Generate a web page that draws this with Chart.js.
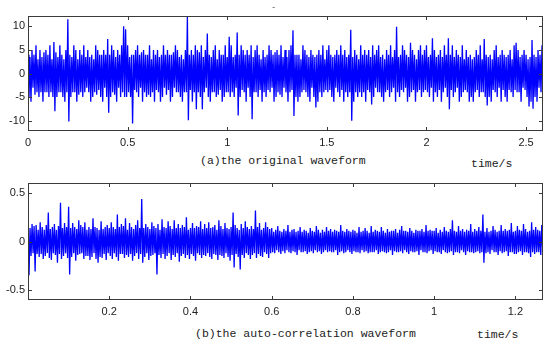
<!DOCTYPE html>
<html>
<head>
<meta charset="utf-8">
<script src="https://cdn.jsdelivr.net/npm/chart.js@4.4.0/dist/chart.umd.min.js"></script>
<style>
  html, body { margin: 0; padding: 0; background: #fff; }
  #wrap { position: relative; width: 554px; height: 352px; overflow: hidden; }
  .plot { position: absolute; left: 0; width: 554px; height: 150px; }
  .cap { position: absolute; font-family: "Liberation Mono", monospace; font-size: 11.5px; line-height: 12px; color: #222; white-space: pre; }
</style>
</head>
<body>
<div id="wrap">
  <div class="plot" style="top:0"><canvas id="chartA" width="554" height="150"></canvas></div>
  <div class="plot" style="top:170px"><canvas id="chartB" width="554" height="150"></canvas></div>
  <span class="cap" style="left:271px;top:2px;font-size:9px;color:#666">-</span>
  <span class="cap" style="left:200px;top:155px">(a)the original waveform</span>
  <span class="cap" style="left:471px;top:158px">time/s</span>
  <span class="cap" style="left:195px;top:328px">(b)the auto-correlation waveform</span>
  <span class="cap" style="left:477px;top:329px">time/s</span>
</div>
<script>
// (a) original waveform, one sample every 0.005 s
const dtA = 0.005;
const waveA = [
  4,-5,3.5,-6,5,-3,4,-4.5,6,-4,3,-5,5,-4,3.5,-6,4.5,-4,5,-4,
  4,-5,6,-4,3,-5,6.7,-8,4.5,-5,3.5,-4,6,-4,4,-5,3,-6,5,-4,
  11.5,-10.2,4,-5,3.5,-4,6,-4,5,-6,3,-4.5,5,-4,4,-5,6,-4,3.5,-3,
  5,-4,3.5,-6,4,-5,3,-4,6,-4.5,5,-3.5,4,-5,4,-6,5,-3,4,-5,
  7.3,-8.3,4,-5,6,-4,5,-4.5,3.5,-6,5,-3,4,-5,6,-4,10,-5,9.4,-5,
  6,-4,3.5,-5,4,-10.6,4,-3.5,5,-4,6,-5,4,-3,4.5,-6,5,-4,4,-5,
  4,-4.5,6,-5,3,-4,5,-6,4,-3.5,5,-4,3.5,-6,4,-5,6,-3,4,-4.5,
  5,-3.5,4,-6,4,-5,4.5,-3,6,-4,5,-4,3.5,-5,4,-6,3,-4,5,-4,
  12.2,-9.9,4,-3.5,5,-6,4,-4,6,-7.6,5,-4,4.5,-5,6,-7.6,3.5,-4,5,-3,
  8.5,-5,4,-6,3.5,-4,5,-4,6,-5,3,-4.5,5,-3.5,4,-6,4,-5,6,-4,
  3.5,-4,7.8,-5,6,-4,3.5,-5,4,-3,8.7,-8.9,4,-5,6,-3.5,5,-4,4,-6,
  5,-3,4,-5,6,-9.7,3.5,-4,5,-4,6,-5,4,-3.5,3,-6,5,-4,3.5,-5,
  4,-3.5,6,-4,5,-3,4,-6,4.5,-5,5,-4,4,-4.5,6,-5,3.5,-3,5,-4,
  3.5,-6,5,-4,6,-3.5,9.2,-9,4,-5,4,-6,4,-5,3,-4,6,-3.5,5,-4,
  4,-5,3.5,-6,5,-3,4,-5,3.5,-7.2,4,-6,5,-4,4,-5,6,-4,3,-3.5,
  5,-4,6,-3.5,4,-5,3.5,-6,4,-3,5,-4,4,-5,6,-3.5,4,-6,5,-4,
  3.5,-5,4,-4,9.3,-10,3.5,-6,5,-4,4,-5,3,-4,6,-5,4,-4,5,-6,
  4,-3.5,5,-4,3.5,-6.6,6,-5,4,-3,5,-4,6,-4,3.5,-5,4,-6,3,-4,
  5,-3.5,4,-5,6,-4,3.5,-3,5,-6,9.9,-4,3.5,-5,4,-3.5,6,-4,5,-3,
  4,-6,3.5,-5,6.5,-4,5,-3.5,4,-6,3,-4,5,-3.5,6,-5,4,-4,5,-3.5,
  6,-4,3.5,-5,4,-3,7.5,-6,5,-4,3.5,-5,4,-3.5,5,-6,3.5,-4,6,-3,
  4,-5,7.5,-7.6,4,-3.5,6,-5,3.5,-4,5,-3,4,-6,3.5,-5,6,-4,3,-3.5,
  5,-4,3.5,-6,4,-5,3,-6,3.5,-4,5,-3.5,4,-5,6,-4,3,-4,7.3,-5,
  4,-6.8,3.5,-5,4,-6,3,-3.5,5,-4,6,-5,3.5,-3,4,-6,5,-3.5,4,-5,
  3.5,-6,4,-3.5,5,-4,3,-5,6,-3.5,6.5,-4,5,-4,3.5,-6,4,-3,5,-3.5,
  4,-5,3,-7,3.5,-6,7.1,-7.5,4,-5,3.5,-6,5,-3,4,-4,6,-3.5,5,-4
];
const xTicksA = [0, 0.5, 1, 1.5, 2, 2.5];
const yTicksA = [-10, -5, 0, 5, 10];

// (b) auto-correlation waveform, one sample every 0.0025 s
const dtB = 0.0025;
const waveB = [
  .25,-.35,.14,-.15,.18,-.12,.16,-.31,.17,-.13,.12,-.16,.2,-.13,.15,-.18,.12,-.15,.17,-.12,
  .3,-.17,.13,-.19,.15,-.12,.18,-.14,.12,-.22,.16,-.13,.4,-.18,.14,-.15,.19,-.12,.15,-.17,
  .36,-.34,.14,-.16,.19,-.12,.15,-.2,.13,-.14,.22,-.13,.17,-.12,.15,-.18,.2,-.15,.12,-.15,
  .15,-.19,.13,-.16,.24,-.12,.15,-.18,.14,-.22,.12,-.16,.21,-.17,.13,-.13,.15,-.19,.17,-.12,
  .14,-.15,.2,-.18,.15,-.12,.13,-.16,.28,-.2,.15,-.13,.18,-.13,.16,-.17,.24,-.14,.12,-.16,
  .19,-.13,.15,-.2,.13,-.15,.17,-.12,.22,-.18,.14,-.13,.44,-.22,.14,-.16,.18,-.12,.15,-.19,
  .13,-.15,.2,-.14,.16,-.12,.14,-.34,.18,-.14,.12,-.17,.23,-.13,.15,-.18,.14,-.15,.21,-.12,
  .16,-.19,.13,-.14,.22,-.16,.14,-.12,.18,-.21,.14,-.15,.17,-.13,.15,-.17,.25,-.14,.12,-.18,
  .14,-.13,.19,-.15,.14,-.2,.16,-.12,.15,-.14,.21,-.17,.13,-.14,.18,-.15,.14,-.12,.2,-.16,
  .14,-.18,.15,-.13,.17,-.14,.12,-.19,.22,-.14,.16,-.15,.13,-.17,.19,-.12,.14,-.16,.13,-.2,
  .15,-.14,.3,-.27,.17,-.13,.14,-.16,.12,-.29,.18,-.14,.14,-.17,.21,-.12,.15,-.14,.13,-.18,
  .16,-.14,.13,-.12,.32,-.17,.15,-.13,.19,-.15,.12,-.16,.14,-.11,.2,-.13,.15,-.17,.13,-.12,
  .14,-.11,.1,-.12,.12,-.09,.16,-.11,.11,-.13,.1,-.1,.13,-.12,.11,-.09,.17,-.11,.1,-.12,
  .12,-.1,.13,-.11,.1,-.14,.11,-.09,.15,-.11,.1,-.11,.12,-.1,.11,-.13,.09,-.11,.14,-.1,
  .11,-.12,.1,-.09,.16,-.11,.12,-.1,.09,-.13,.12,-.11,.1,-.09,.15,-.11,.11,-.1,.13,-.11,
  .1,-.11,.12,-.09,.11,-.14,.1,-.11,.17,-.1,.11,-.12,.1,-.11,.13,-.09,.11,-.11,.1,-.13,
  .12,-.1,.11,-.11,.09,-.11,.15,-.12,.1,-.09,.11,-.11,.14,-.1,.11,-.12,.09,-.11,.16,-.11,
  .1,-.11,.12,-.09,.11,-.13,.1,-.11,.15,-.1,.11,-.11,.09,-.12,.13,-.11,.1,-.09,.11,-.14,
  .11,-.1,.13,-.11,.09,-.11,.12,-.1,.16,-.12,.11,-.09,.11,-.11,.1,-.13,.14,-.1,.11,-.11,
  .09,-.11,.12,-.1,.11,-.14,.11,-.09,.13,-.11,.1,-.11,.17,-.12,.11,-.1,.12,-.09,.11,-.13,
  .11,-.1,.14,-.11,.09,-.11,.12,-.13,.1,-.09,.15,-.11,.11,-.12,.1,-.11,.13,-.1,.22,-.14,
  .11,-.11,.1,-.11,.16,-.12,.11,-.09,.13,-.11,.1,-.14,.12,-.1,.11,-.11,.18,-.11,.1,-.12,
  .13,-.11,.11,-.1,.15,-.12,.11,-.11,.28,-.22,.1,-.12,.14,-.11,.1,-.13,.11,-.09,.16,-.11,
  .12,-.11,.1,-.14,.11,-.1,.17,-.12,.11,-.11,.13,-.1,.11,-.15,.12,-.11,.19,-.11,.1,-.13,
  .11,-.13,.16,-.11,.12,-.1,.11,-.14,.18,-.11,.13,-.11,.1,-.12,.11,-.16,.2,-.11,.12,-.13,
  .15,-.11,.12,-.11,.11,-.14,.17,-.1,.11,-.12,.14,-.11,.1,-.13,.12,-.11,.15,-.11,.11,-.1
];
const xTicksB = [0.2, 0.4, 0.6, 0.8, 1, 1.2];
const yTicksB = [-0.5, 0, 0.5];

// matlab style box with inward ticks on all four sides
const boxTicks = {
  id: 'boxTicks',
  afterDraw(chart) {
    const { ctx, chartArea: a, scales: { x, y } } = chart;
    const L = 4;
    ctx.save();
    ctx.strokeStyle = '#3a3a3a';
    ctx.lineWidth = 1;
    ctx.strokeRect(a.left + 0.5, a.top + 0.5, a.right - a.left - 1, a.bottom - a.top - 1);
    ctx.beginPath();
    x.ticks.forEach(t => {
      const px = Math.round(x.getPixelForValue(t.value)) + 0.5;
      ctx.moveTo(px, a.bottom); ctx.lineTo(px, a.bottom - L);
      ctx.moveTo(px, a.top); ctx.lineTo(px, a.top + L);
    });
    y.ticks.forEach(t => {
      const py = Math.round(y.getPixelForValue(t.value)) + 0.5;
      ctx.moveTo(a.left, py); ctx.lineTo(a.left + L, py);
      ctx.moveTo(a.right, py); ctx.lineTo(a.right - L, py);
    });
    ctx.stroke();
    ctx.restore();
  }
};

function makeWave(id, values, dt, xTicks, yTicks, xMax, yLim, padTop, xH) {
  const tickFont = { family: '"Liberation Sans", Arial, sans-serif', size: 11 };
  return new Chart(document.getElementById(id), {
    type: 'line',
    data: {
      datasets: [{
        data: values.map((v, i) => ({ x: i * dt, y: v })),
        borderColor: '#0000ff',
        borderWidth: 1.3,
        pointRadius: 0,
        tension: 0
      }]
    },
    options: {
      responsive: false,
      animation: false,
      events: [],
      layout: { padding: { top: padTop, right: 11, left: 0, bottom: 0 } },
      scales: {
        x: {
          type: 'linear',
          min: 0,
          max: xMax,
          grid: { display: false, drawTicks: false },
          border: { display: false },
          afterBuildTicks: s => { s.ticks = xTicks.map(v => ({ value: v })); },
          afterFit: s => { s.height = xH; },
          ticks: { callback: v => String(v), color: '#222', font: tickFont, padding: 5, maxRotation: 0, autoSkip: false }
        },
        y: {
          min: -yLim,
          max: yLim,
          grid: { display: false, drawTicks: false },
          border: { display: false },
          afterBuildTicks: s => { s.ticks = yTicks.map(v => ({ value: v })); },
          afterFit: s => { s.width = 28; },
          ticks: { callback: v => String(v), color: '#222', font: tickFont, padding: 3, autoSkip: false }
        }
      },
      plugins: { legend: { display: false }, tooltip: { enabled: false } }
    },
    plugins: [boxTicks]
  });
}

makeWave('chartA', waveA, dtA, xTicksA, yTicksA, 2.585, 12.2, 16, 19);
makeWave('chartB', waveB, dtB, xTicksB, yTicksB, 1.268, 0.605, 13, 20);
</script>
</body>
</html>
